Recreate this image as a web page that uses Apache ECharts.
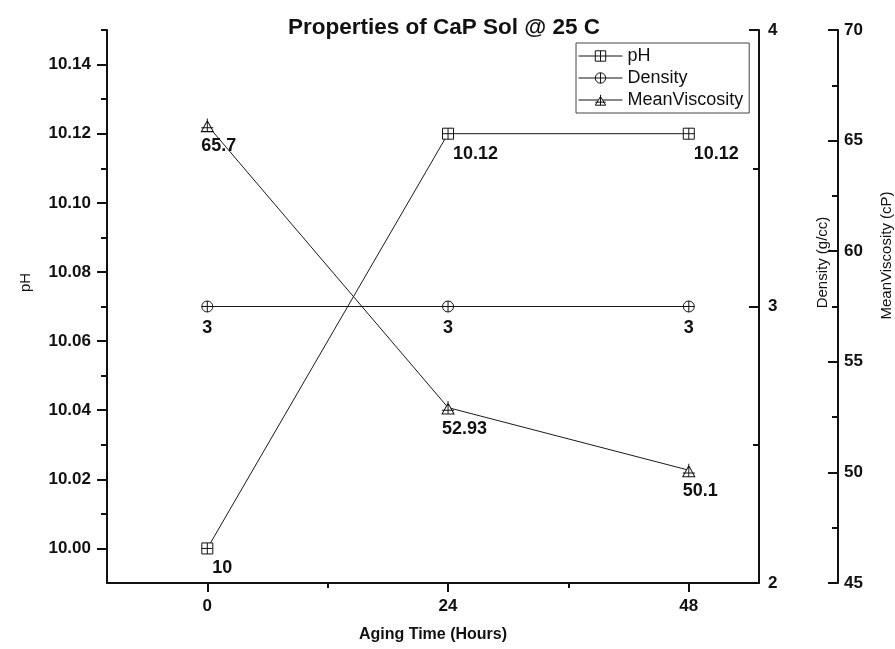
<!DOCTYPE html>
<html>
<head>
<meta charset="utf-8">
<script src="https://cdn.jsdelivr.net/npm/echarts@6/dist/echarts.min.js"></script>
<style>
  html, body { margin: 0; padding: 0; background: #fff; }
  #chart { width: 895px; height: 649px; }
</style>
</head>
<body>
<div id="chart"></div>
<script>
// Aging time points (hours)
const hours = [0, 24, 48];
// Measured properties
const phValues = [10, 10.12, 10.12];
const densityValues = [3, 3, 3];
const viscosityValues = [65.7, 52.93, 50.1];

// Tick positions
const hourMajorTicks = [0, 24, 48];
const hourMinorTicks = [12, 36];
const phMajorTicks = [10.00, 10.02, 10.04, 10.06, 10.08, 10.10, 10.12, 10.14];
const phMinorTicks = [10.01, 10.03, 10.05, 10.07, 10.09, 10.11, 10.13, 10.15];

const FONT = '"Liberation Sans", Arial, sans-serif';

// Marker glyphs: square/circle/triangle crossed by lines
const SYM_SQUARE = 'path://M0,0H10V10H0ZM5,0V10M0,5H10';
const SYM_CIRCLE = 'path://M10,5A5,5 0 1 1 0,5A5,5 0 1 1 10,5ZM5,0V10M0,5H10';
const SYM_TRIANGLE = 'path://M5,0L10,10H0ZM5,-2V10M0,6.5H10';

const pairs = (ys) => hours.map((h, i) => [h, ys[i]]);

const chart = echarts.init(document.getElementById('chart'), null, { renderer: 'canvas' });

const INK = '#111';
const lineStyle = { color: '#1a1a1a', width: 1 };
const markStyle = { color: '#fff', borderColor: INK, borderWidth: 1 };
const axisLineStyle = { show: true, onZero: false, lineStyle: { color: INK, width: 2 } };
const labelBase = {
  show: true,
  fontFamily: FONT,
  fontWeight: 'bold',
  fontSize: 18,
  color: INK,
  formatter: (p) => String(p.value[1])
};
const tickText = { fontFamily: FONT, fontWeight: 'bold', fontSize: 17, color: INK };

const option = {
  backgroundColor: '#fff',
  animation: false,
  title: {
    text: 'Properties of CaP Sol @ 25 C',
    left: 439,
    top: 11,
    textAlign: 'center',
    textStyle: { fontFamily: FONT, fontWeight: 'bold', fontSize: 22.5, color: INK }
  },
  legend: {
    orient: 'vertical',
    left: 576,
    top: 43,
    padding: [4, 6, 4, 2],
    itemGap: 4,
    itemWidth: 44,
    itemHeight: 13,
    borderColor: '#444',
    borderWidth: 1,
    itemStyle: { color: '#fff', borderColor: INK, borderWidth: 1 },
    lineStyle: { color: INK, width: 1 },
    textStyle: { fontFamily: FONT, fontSize: 18, color: INK },
    data: ['pH', 'Density', 'MeanViscosity']
  },
  grid: { left: 107, right: 136, top: 30, bottom: 66, outerBoundsMode: 'none', containLabel: false },
  xAxis: [
    {
      type: 'value',
      min: -10,
      max: 55,
      name: 'Aging Time (Hours)',
      nameLocation: 'middle',
      nameGap: 44,
      nameTextStyle: { fontFamily: FONT, fontWeight: 'bold', fontSize: 16, color: INK },
      axisLine: axisLineStyle,
      axisTick: { customValues: hourMajorTicks, length: 9, lineStyle: { color: INK, width: 2 } },
      axisLabel: Object.assign({ customValues: hourMajorTicks, margin: 15 }, tickText),
      splitLine: { show: false }
    },
    {
      type: 'value',
      min: -10,
      max: 55,
      position: 'bottom',
      axisLine: { show: false, onZero: false },
      axisTick: { customValues: hourMinorTicks, length: 5, lineStyle: { color: INK, width: 2 } },
      axisLabel: { show: false },
      splitLine: { show: false }
    }
  ],
  yAxis: [
    {
      type: 'value',
      position: 'left',
      min: 9.99,
      max: 10.15,
      name: 'pH',
      nameLocation: 'middle',
      nameGap: 74,
      nameRotate: 90,
      nameTextStyle: { fontFamily: FONT, fontSize: 15, color: INK, padding: [0, 0, 0, 48] },
      axisLine: axisLineStyle,
      axisTick: { show: true, customValues: phMajorTicks, length: 10, lineStyle: { color: INK, width: 2 } },
      axisLabel: Object.assign({
        customValues: phMajorTicks, margin: 16,
        formatter: (v) => v.toFixed(2)
      }, tickText),
      splitLine: { show: false }
    },
    {
      type: 'value',
      position: 'right',
      min: 2,
      max: 4,
      interval: 1,
      name: 'Density (g/cc)',
      nameLocation: 'middle',
      nameGap: 56,
      nameRotate: 90,
      nameTextStyle: { fontFamily: FONT, fontSize: 15, color: INK, padding: [0, 0, 0, 88] },
      axisLine: axisLineStyle,
      axisTick: { show: true, inside: true, length: 10, lineStyle: { color: INK, width: 2 } },
      minorTick: { show: true, splitNumber: 2, length: 6, lineStyle: { color: INK, width: 2 } },
      axisLabel: Object.assign({ margin: 9 }, tickText),
      splitLine: { show: false }
    },
    {
      type: 'value',
      position: 'right',
      offset: 79,
      min: 45,
      max: 70,
      interval: 5,
      name: 'MeanViscosity (cP)',
      nameLocation: 'middle',
      nameGap: 41,
      nameRotate: 90,
      nameTextStyle: { fontFamily: FONT, fontSize: 15, color: INK, padding: [0, 0, 0, 102] },
      axisLine: axisLineStyle,
      axisTick: { show: true, inside: true, length: 10, lineStyle: { color: INK, width: 2 } },
      minorTick: { show: true, splitNumber: 2, length: 6, lineStyle: { color: INK, width: 2 } },
      axisLabel: Object.assign({ margin: 6 }, tickText),
      splitLine: { show: false }
    },
    {
      type: 'value',
      position: 'left',
      min: 9.99,
      max: 10.15,
      axisLine: { show: false, onZero: false },
      axisTick: { show: true, customValues: phMinorTicks, length: 6, lineStyle: { color: INK, width: 2 } },
      axisLabel: { show: false },
      splitLine: { show: false }
    }
  ],
  series: [
    {
      name: 'pH',
      type: 'line',
      xAxisIndex: 0,
      yAxisIndex: 0,
      data: pairs(phValues),
      symbol: SYM_SQUARE,
      symbolSize: 11,
      showAllSymbol: true,
      lineStyle: lineStyle,
      itemStyle: markStyle,
      label: Object.assign({}, labelBase, { position: 'bottom', align: 'left', distance: 5, offset: [5, 0] })
    },
    {
      name: 'Density',
      type: 'line',
      xAxisIndex: 0,
      yAxisIndex: 1,
      data: pairs(densityValues),
      symbol: SYM_CIRCLE,
      symbolSize: 11,
      showAllSymbol: true,
      lineStyle: lineStyle,
      itemStyle: markStyle,
      label: Object.assign({}, labelBase, { position: 'bottom', distance: 7 })
    },
    {
      name: 'MeanViscosity',
      type: 'line',
      xAxisIndex: 0,
      yAxisIndex: 2,
      data: pairs(viscosityValues),
      symbol: SYM_TRIANGLE,
      symbolSize: [12, 13],
      showAllSymbol: true,
      lineStyle: lineStyle,
      itemStyle: markStyle,
      label: Object.assign({}, labelBase, { position: 'bottom', align: 'left', distance: 5, offset: [-6, 0] })
    }
  ]
};

chart.setOption(option);
</script>
</body>
</html>
